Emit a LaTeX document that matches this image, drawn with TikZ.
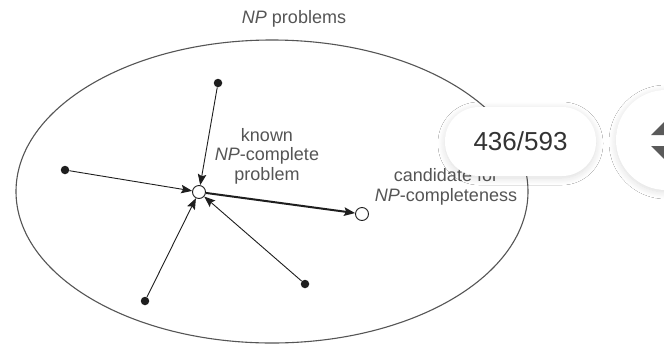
\documentclass[tikz,border=0pt]{standalone}
\usepackage{fontspec}
\setmainfont{Liberation Sans}
\usetikzlibrary{arrows.meta,shadows.blur}
\definecolor{linegray}{HTML}{1E1E1E}
\definecolor{rimgray}{HTML}{555555}
\definecolor{textgray}{HTML}{555555}
\definecolor{countgray}{HTML}{333333}
\definecolor{glyphgray}{HTML}{5A5A5A}
\begin{document}
\begin{tikzpicture}[x=1pt,y=-1pt,
  lbl/.style={text=textgray, font=\fontsize{18}{19.5}\selectfont, align=center, inner sep=0pt},
  dot/.style={circle, fill=linegray, minimum size=8.5pt, inner sep=0pt},
  hollow/.style={circle, draw=linegray, fill=white, line width=0.9pt, minimum size=13pt, inner sep=0pt},
  feed/.style={draw=linegray, line width=0.9pt, -{Stealth[length=11pt,width=8.5pt,inset=2pt]}},
  reduce/.style={draw=linegray, line width=2pt, -{Stealth[length=11pt,width=8.5pt,inset=2pt]}},
  softshadow/.style={blur shadow={shadow xshift=0pt, shadow yshift=-2pt, shadow blur radius=7pt, shadow blur steps=10, shadow opacity=14}},
]
\useasboundingbox (0,0) rectangle (664,346);
\fill[white] (0,0) rectangle (664,346);

% the class of NP problems
\draw[rimgray, line width=1.1pt] (272,191.5) ellipse [x radius=256, y radius=151.5];
\node[lbl] (title) at (294,19) {\textit{NP} problems};

% known NP-complete problem and the candidate
\node[hollow] (known) at (199,192) {};
\node[hollow] (cand) at (362,214) {};
\node[lbl] (knownlbl) at (267,156) {known\\\textit{NP}-complete\\problem};
\node[lbl] (candlbl) at (446,187) {candidate for\\\textit{NP}-completeness};

% other NP problems reducing to the known one
\node[dot] (p1) at (218,83) {};
\node[dot] (p2) at (65,170) {};
\node[dot] (p3) at (145,301) {};
\node[dot] (p4) at (305,284) {};

\draw[feed] (p1) -- (known);
\draw[feed] (p2) -- (known);
\draw[feed] (p3) -- (known);
\draw[feed] (p4) -- (known);
\draw[reduce] (known) -- (cand);

% page counter and scroll button
\node[rectangle, rounded corners=34pt, fill=white, minimum width=151pt, minimum height=69pt,
      softshadow, text=countgray, font=\fontsize{26}{28}\selectfont] (counter) at (520.5,141.5) {436/593};
\node[circle, fill=white, minimum size=100pt, inner sep=0pt, softshadow] (pager) at (666,140) {};
\fill[glyphgray] (651,135) -- (685,135) -- (668,118) -- cycle;
\fill[glyphgray] (651,146) -- (685,146) -- (668,163) -- cycle;
\end{tikzpicture}
\end{document}
